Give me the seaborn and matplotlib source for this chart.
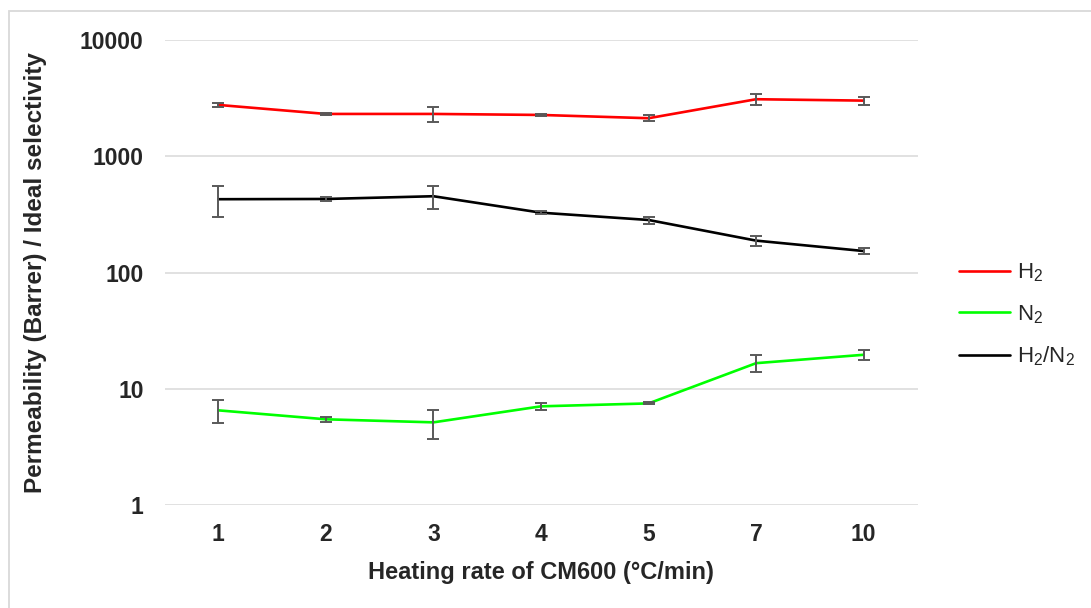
import matplotlib
matplotlib.use("Agg")
import matplotlib.pyplot as plt
import matplotlib.patches as mpatches
import seaborn as sns
import pandas as pd
import numpy as np

# ---- data ----
heating_rates = ["1", "2", "3", "4", "5", "7", "10"]
h2_perm = [2764, 2312, 2312, 2266, 2124, 3094, 3010]
h2_err = [135, 40, 350, 50, 120, 355, 235]
n2_perm = [6.52, 5.46, 5.14, 7.06, 7.48, 16.6, 19.6]
n2_err = [1.47, 0.25, 1.47, 0.45, 0.15, 2.8, 2.0]
sel = [427, 429, 453, 327, 283, 188, 153]
sel_err = [128, 15, 102, 10, 20, 18, 9.5]
series_names = ["H$_2$", "N$_2$", "H$_2$/N$_2$"]
series_colors = ["#FF0000", "#00FF00", "#000000"]
y_ticks = [1, 10, 100, 1000, 10000]

sns.set_theme(style="white")
plt.rcParams["font.family"] = ["Liberation Sans", "DejaVu Sans"]
plt.rcParams["mathtext.default"] = "regular"

fig = plt.figure(figsize=(10.91, 6.08), dpi=100)
ax = fig.add_axes([164.5 / 1091, (608 - 505) / 608, 753 / 1091, 465 / 608])

df = pd.DataFrame({
    "rate": heating_rates * 3,
    "value": h2_perm + n2_perm + sel,
    "err": h2_err + n2_err + sel_err,
    "series": [series_names[0]] * 7 + [series_names[1]] * 7 + [series_names[2]] * 7,
})

sns.lineplot(data=df, x="rate", y="value", hue="series", palette=series_colors,
             hue_order=series_names, linewidth=1.9, ax=ax, sort=False, legend=False)

for name in series_names:
    sub = df[df["series"] == name]
    ax.errorbar(sub["rate"], sub["value"], yerr=sub["err"], fmt="none",
                ecolor="#595959", elinewidth=1.4, capsize=4, capthick=1.4, zorder=5)

ax.set_yscale("log")
ax.set_ylim(1, 10000)
ax.set_xlim(-0.5, 6.5)
ax.set_yticks(y_ticks)
ax.set_yticklabels([str(t) for t in y_ticks])
ax.minorticks_off()
ax.yaxis.grid(True, color="#d9d9d9", linewidth=1.1)
ax.xaxis.grid(False)
ax.set_axisbelow(True)
for s in ax.spines.values():
    s.set_visible(False)
ax.tick_params(axis="y", length=0, pad=15, labelsize=16.5)
ax.tick_params(axis="x", length=0, pad=13, labelsize=16.5)
for lab in ax.get_xticklabels() + ax.get_yticklabels():
    lab.set_fontweight("bold")

ax.set_xlabel("Heating rate of CM600 (°C/min)", fontsize=17, fontweight="bold", labelpad=11)
ax.set_ylabel("Permeability (Barrer) / Ideal selectivity", fontsize=17.5, fontweight="bold")
ax.yaxis.set_label_coords(-0.156, 0.5)

handles = [plt.Line2D([], [], color=c, linewidth=1.9) for c in series_colors]
fig.legend(handles, series_names, loc="center left",
           bbox_to_anchor=(959 / 1091, (608 - 315) / 608), frameon=False,
           fontsize=16, handlelength=2.3, handletextpad=0.3, labelspacing=0.85,
           borderpad=0, borderaxespad=0)

border = mpatches.Rectangle((9 / 1091, -0.2), 1.2, (608 - 10.5) / 608 + 0.2,
                            transform=fig.transFigure, fill=False,
                            edgecolor="#d9d9d9", linewidth=1.3, clip_on=False)
fig.patches.append(border)

fig.savefig("out.png", dpi=100)
